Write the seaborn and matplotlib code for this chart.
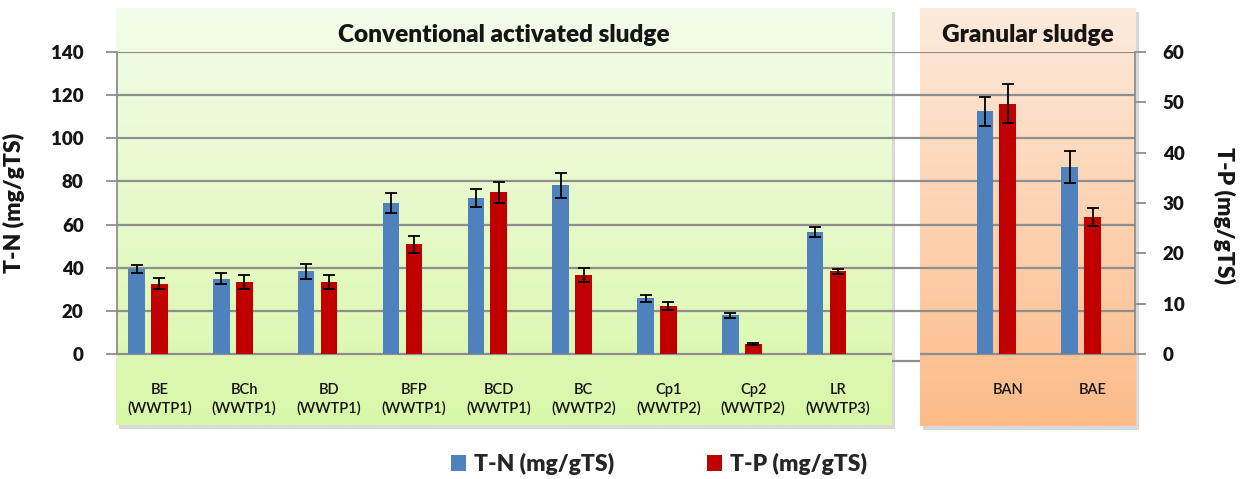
import numpy as np
import pandas as pd
import seaborn as sns
import matplotlib.pyplot as plt
from matplotlib.colors import LinearSegmentedColormap
from matplotlib.patches import Rectangle

# ---------------- data ----------------
conv_labels = ["BE\n(WWTP1)", "BCh\n(WWTP1)", "BD\n(WWTP1)", "BFP\n(WWTP1)", "BCD\n(WWTP1)",
               "BC\n(WWTP2)", "Cp1\n(WWTP2)", "Cp2\n(WWTP2)", "LR\n(WWTP3)"]
gran_labels = ["BAN", "BAE"]

tn_conv = [39.5, 35.0, 38.3, 70.0, 72.3, 78.3, 25.8, 18.0, 56.5]
tn_conv_err = [1.8, 2.5, 3.5, 4.8, 4.2, 5.8, 1.7, 1.2, 2.3]
tn_gran = [112.5, 86.7]
tn_gran_err = [6.7, 7.5]

tp_conv = [14.0, 14.3, 14.3, 21.8, 32.1, 15.7, 9.5, 2.0, 16.4]
tp_conv_err = [1.1, 1.3, 1.3, 1.65, 2.1, 1.4, 0.85, 0.2, 0.55]
tp_gran = [49.7, 27.2]
tp_gran_err = [3.9, 1.8]

tn_ticks = [0, 20, 40, 60, 80, 100, 120, 140]
tp_ticks = [0, 10, 20, 30, 40, 50, 60]

series_names = ["T-N (mg/gTS)", "T-P (mg/gTS)"]
panel_titles = ["Conventional activated sludge", "Granular sludge"]

# ---------------- layout ----------------
W, H = 1243, 479
FONT = "Lato"
sns.set_theme(style="white")
plt.rcParams["font.family"] = [FONT, "DejaVu Sans"]

BLUE = "#4F81BD"
RED = "#C00000"
GRID = "#8E8E8E"
TXT = "#151515"

labels = conv_labels + gran_labels
tn = np.array(tn_conv + tn_gran)
tn_err = np.array(tn_conv_err + tn_gran_err)
tp = np.array(tp_conv + tp_gran)
tp_err = np.array(tp_conv_err + tp_gran_err)
pos = np.concatenate([np.arange(len(conv_labels)),
                      len(conv_labels) + 1 + np.arange(len(gran_labels))]).astype(float)
nslots = len(conv_labels) + 1 + len(gran_labels)

fig = plt.figure(figsize=(W / 100, H / 100), dpi=100)

def fx(px):
    return px / W

def fy(py):
    return 1 - py / H

# background panels with gradient
def panel(x0, y0, x1, y1, ctop, cbot):
    sh = fig.add_axes([fx(x0 + 3), fy(y1 + 4), fx(x1 - x0), (y1 - y0) / H], zorder=-3)
    sh.set_axis_off()
    sh.add_patch(Rectangle((0, 0), 1, 1, transform=sh.transAxes, color="#d0d0d0", alpha=0.8))
    pa = fig.add_axes([fx(x0), fy(y1), fx(x1 - x0), (y1 - y0) / H], zorder=-2)
    cmap = LinearSegmentedColormap.from_list("g", [ctop, cbot])
    pa.imshow(np.linspace(0, 1, 256).reshape(-1, 1), aspect="auto", cmap=cmap,
              extent=[0, 1, 0, 1], origin="upper")
    pa.set_axis_off()

panel(116, 8, 892, 425, "#F3FCE9", "#D9F7A8")
panel(920, 8, 1136, 426, "#FDEADB", "#FCBB88")

# main axes: x from 117 to 1135 px, y from 52 (140) to 354 (0)
ax = fig.add_axes([fx(117), fy(354), fx(1135 - 117), (354 - 52) / H], zorder=1)
ax.set_facecolor("none")
ax2 = ax.twinx()
ax2.set_facecolor("none")

off = 0.27
bw = 0.195
df_n = pd.DataFrame({"x": pos - off, "v": tn})
df_p = pd.DataFrame({"x": pos, "v": tp})
sns.barplot(data=df_n, x="x", y="v", native_scale=True, width=bw, color=BLUE,
            saturation=1, linewidth=0, errorbar=None, ax=ax, label=series_names[0], zorder=3)
sns.barplot(data=df_p, x="x", y="v", native_scale=True, width=bw, color=RED,
            saturation=1, linewidth=0, errorbar=None, ax=ax2, label=series_names[1], zorder=3)
ax.errorbar(pos - off, tn, yerr=tn_err, fmt="none", ecolor="black", elinewidth=1.3,
            capsize=4.5, capthick=1.3, zorder=4)
ax2.errorbar(pos, tp, yerr=tp_err, fmt="none", ecolor="black", elinewidth=1.3,
             capsize=4.5, capthick=1.3, zorder=4)

ax.set_xlim(-0.5, nslots - 0.5)
ax2.set_xlim(-0.5, nslots - 0.5)
ax.set_ylim(tn_ticks[0], tn_ticks[-1])
ax2.set_ylim(tp_ticks[0], tp_ticks[-1])

# gridlines (zero line broken in the gap between panels)
for v in tn_ticks[1:]:
    ax.axhline(v, color=GRID, lw=1.6, zorder=1)
gap_a = (892 - 117) / (1135 - 117) * nslots - 0.5
gap_b = (920 - 117) / (1135 - 117) * nslots - 0.5
ax.hlines(0, -0.5, gap_a, color=GRID, lw=1.6, zorder=2, clip_on=False)
ax.hlines(0, gap_b, nslots - 0.5, color=GRID, lw=1.6, zorder=2, clip_on=False)
ax.hlines(-3.2, gap_a, gap_b, color=GRID, lw=1.6, zorder=2, clip_on=False)

ax.set_yticks(tn_ticks)
ax.set_yticklabels([str(t) for t in tn_ticks], fontsize=13.5, fontweight="heavy", color=TXT)
ax2.set_yticks(tp_ticks)
ax2.set_yticklabels([str(t) for t in tp_ticks], fontsize=13.5, fontweight="heavy", color=TXT)
ax.tick_params(axis="y", which="major", left=True, length=8, width=1.3, color=GRID, pad=16)
ax2.tick_params(axis="y", which="major", right=True, length=8, width=1.3, color=GRID, pad=12)

ax.set_xticks(pos)
ax.set_xticklabels(labels, fontsize=10.5, fontweight="semibold", color=TXT, linespacing=1.35)
ax.tick_params(axis="x", length=0, pad=21)
ax2.tick_params(axis="x", length=0)
ax.set_xlabel("")
ax2.set_xlabel("")

for a in (ax, ax2):
    for s in ("top", "bottom"):
        a.spines[s].set_visible(False)
ax.spines["left"].set_visible(True)
ax.spines["left"].set_color(GRID)
ax.spines["left"].set_linewidth(1.3)
ax2.spines["left"].set_visible(False)
ax2.spines["right"].set_visible(True)
ax2.spines["right"].set_color(GRID)
ax2.spines["right"].set_linewidth(1.3)
ax.spines["right"].set_visible(False)

ax.set_ylabel(series_names[0], fontsize=16.5, fontweight="heavy", color=TXT)
ax.yaxis.set_label_coords((25 - 117) / (1135 - 117), 0.5)
ax2.set_ylabel(series_names[1], fontsize=16.5, fontweight="heavy", color=TXT, rotation=270,
               va="center")
ax2.yaxis.set_label_coords((1224 - 117) / (1135 - 117), 0.46)

# panel titles
fig.text(fx(504), fy(35), panel_titles[0], ha="center", va="center", fontsize=17.6,
         fontweight="heavy", color=TXT)
fig.text(fx(1028), fy(35), panel_titles[1], ha="center", va="center", fontsize=17.6,
         fontweight="heavy", color=TXT)

# legend
h1, l1 = ax.get_legend_handles_labels()
h2, l2 = ax2.get_legend_handles_labels()
for a in (ax, ax2):
    if a.get_legend() is not None:
        a.get_legend().remove()
fig.legend(h1[:1] + h2[:1], l1[:1] + l2[:1], loc="center", bbox_to_anchor=(fx(659), fy(464)),
           ncol=2, frameon=False, handlelength=0.65, handleheight=0.65, handletextpad=0.35,
           columnspacing=4.05, prop={"family": FONT, "weight": "heavy", "size": 16.5})

fig.savefig("out.png", dpi=100)
